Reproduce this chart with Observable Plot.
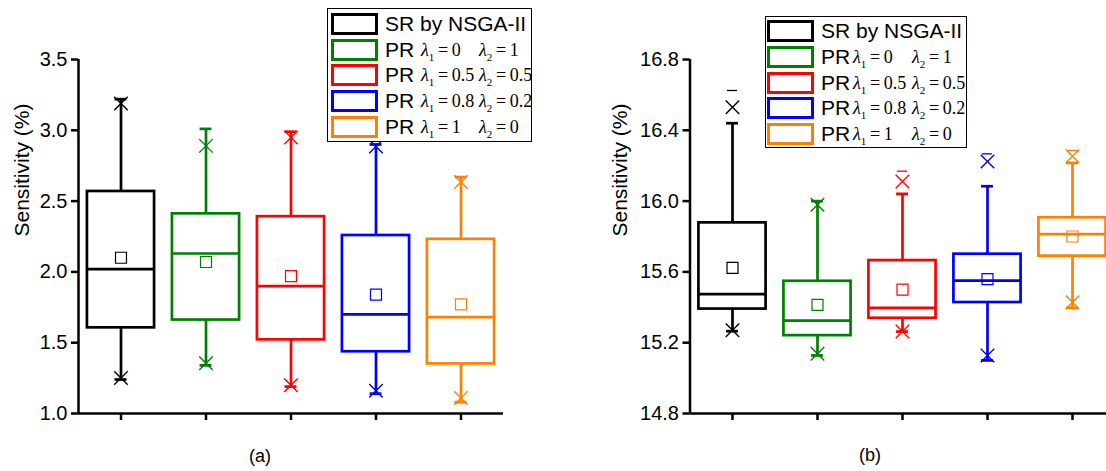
<!DOCTYPE html>
<html>
<head>
<meta charset="utf-8">
<script src="https://cdn.jsdelivr.net/npm/d3@7"></script>
<script src="https://cdn.jsdelivr.net/npm/@observablehq/plot@0.6"></script>
<style>
  html, body { margin: 0; padding: 0; background: #fff; overflow: hidden; }
  #chart { position: relative; width: 1106px; height: 471px; overflow: hidden; background: #fff;
           font-family: "Liberation Sans", Arial, sans-serif; color: #000; }
  .panel { position: absolute; top: 0; }
  .legend { position: absolute; box-sizing: border-box; border: 1.5px solid #000; background: #fff; }
  .legend .row { position: absolute; left: 0; right: 0; height: 26px; }
  .legend .swatch { position: absolute; top: 2px; height: 22px; width: 47px; box-sizing: border-box; border: 3px solid; }
  .legend .name { position: absolute; top: 0; line-height: 26px; font-size: 21px; white-space: nowrap; }
  .legend .math { position: absolute; top: 0; line-height: 26px; font-size: 18px; white-space: nowrap;
                  font-family: "Liberation Serif", "Times New Roman", serif; }
  .legend .math sub { font-size: 11px; vertical-align: 0; position: relative; top: 5px; }
  .caption { position: absolute; font-size: 18px; transform: translate(-50%, -50%); white-space: nowrap; }
</style>
</head>
<body>
<div id="chart"></div>
<script>
// Categories along x and the colour of each series
const categories = [1, 2, 3, 4, 5];
const seriesColors = ["#000000", "#008000", "#ff0000", "#0000ff", "#ff8000"];
const seriesNames = ["SR by NSGA-II", "PR", "PR", "PR", "PR"];
const lambda1 = [null, "0", "0.5", "0.8", "1"];
const lambda2 = [null, "1", "0.5", "0.2", "0"];

// Panel (a): box statistics of sensitivity (%)
const aQ1 = [1.605, 1.66, 1.52, 1.436, 1.35];
const aMedian = [2.02, 2.13, 1.90, 1.70, 1.68];
const aQ3 = [2.568, 2.41, 2.39, 2.257, 2.23];
const aMean = [2.10, 2.07, 1.97, 1.84, 1.77];
const aWhiskerLow = [1.24, 1.34, 1.19, 1.14, 1.08];
const aWhiskerHigh = [3.22, 3.01, 2.99, 2.90, 2.67];
const aP1 = [1.25, 1.355, 1.20, 1.16, 1.11];
const aP99 = [3.19, 2.89, 2.95, 2.885, 2.635];
const aMin = [1.24, 1.34, 1.19, 1.14, 1.08];
const aMax = [3.22, 3.01, 2.99, 2.90, 2.67];
const aTicks = [1.0, 1.5, 2.0, 2.5, 3.0, 3.5];

// Panel (b): box statistics of sensitivity (%)
const bQ1 = [15.39, 15.24, 15.338, 15.427, 15.689];
const bMedian = [15.474, 15.325, 15.397, 15.551, 15.813];
const bQ3 = [15.877, 15.547, 15.664, 15.70, 15.906];
const bMean = [15.623, 15.414, 15.50, 15.559, 15.80];
const bWhiskerLow = [15.265, 15.128, 15.263, 15.10, 15.397];
const bWhiskerHigh = [16.44, 16.0, 16.041, 16.084, 16.216];
const bP1 = [15.27, 15.137, 15.263, 15.128, 15.429];
const bP99 = [16.53, 15.98, 16.111, 16.224, 16.254];
const bMin = [15.265, 15.128, 15.263, 15.10, 15.397];
const bMax = [16.625, 16.0, 16.169, 16.267, 16.286];
const bTicks = [14.8, 15.2, 15.6, 16.0, 16.4, 16.8];

function buildRows(q1, median, q3, mean, wLo, wHi, p1, p99, min, max) {
  return categories.map((x, i) => ({
    x, color: seriesColors[i],
    q1: q1[i], median: median[i], q3: q3[i], mean: mean[i],
    wLo: wLo[i], wHi: wHi[i], p1: p1[i], p99: p99[i], min: min[i], max: max[i]
  }));
}

const HALF_BOX = 0.395;
const HALF_CAP = 0.07;
const HALF_DASH = 0.06;
const LINE = 2.7;

function boxPanel({rows, ticks, width, marginLeft, xRange, labelDx}) {
  const yDomain = [ticks[0], ticks[ticks.length - 1]];
  return Plot.plot({
    width,
    height: 440,
    marginTop: 59,
    marginBottom: 27,
    marginLeft,
    marginRight: 0,
    x: {type: "linear", domain: [0.5, 5.5], range: xRange},
    y: {domain: yDomain, range: [413, 59]},
    color: {type: "identity"},
    style: {fontFamily: "'Liberation Sans', Arial, sans-serif", fontSize: "20px", color: "#000", overflow: "visible", background: "transparent"},
    marks: [
      // axes
      Plot.axisY({ticks, tickFormat: d => d.toFixed(1), tickSize: 7, tickPadding: 4, strokeWidth: 2.5, fontSize: 20, label: null}),
      Plot.axisX({ticks: categories, tickFormat: () => "", tickSize: 7, strokeWidth: 2.5, label: null}),
      Plot.ruleX([0.5], {y1: yDomain[0], y2: yDomain[1], strokeWidth: 2.5}),
      Plot.ruleY([yDomain[0]], {x1: 0.5, x2: 5.5, strokeWidth: 2.5}),
      Plot.text({length: 1}, {text: ["Sensitivity (%)"], frameAnchor: "left", rotate: -90, dx: labelDx, fontSize: 21}),
      // whiskers
      Plot.ruleX(rows, {x: "x", y1: "q3", y2: "wHi", stroke: "color", strokeWidth: LINE}),
      Plot.ruleX(rows, {x: "x", y1: "wLo", y2: "q1", stroke: "color", strokeWidth: LINE}),
      // whisker caps
      Plot.ruleY(rows, {y: "wHi", x1: d => d.x - HALF_CAP, x2: d => d.x + HALF_CAP, stroke: "color", strokeWidth: LINE}),
      Plot.ruleY(rows, {y: "wLo", x1: d => d.x - HALF_CAP, x2: d => d.x + HALF_CAP, stroke: "color", strokeWidth: LINE}),
      // min / max dashes
      Plot.ruleY(rows, {y: "max", x1: d => d.x - HALF_DASH, x2: d => d.x + HALF_DASH, stroke: "color", strokeWidth: 1.3}),
      Plot.ruleY(rows, {y: "min", x1: d => d.x - HALF_DASH, x2: d => d.x + HALF_DASH, stroke: "color", strokeWidth: 1.3}),
      // interquartile box and median
      Plot.rect(rows, {x1: d => d.x - HALF_BOX, x2: d => d.x + HALF_BOX, y1: "q1", y2: "q3", fill: "none", stroke: "color", strokeWidth: LINE}),
      Plot.ruleY(rows, {y: "median", x1: d => d.x - HALF_BOX, x2: d => d.x + HALF_BOX, stroke: "color", strokeWidth: LINE}),
      // 1% / 99% markers
      Plot.dot(rows, {x: "x", y: "p99", symbol: "times", r: 6.2, stroke: "color", strokeWidth: 1.4}),
      Plot.dot(rows, {x: "x", y: "p1", symbol: "times", r: 6.2, stroke: "color", strokeWidth: 1.4}),
      // mean
      Plot.dot(rows, {x: "x", y: "mean", symbol: "square", r: 6.2, fill: "none", stroke: "color", strokeWidth: 1.2})
    ]
  });
}

function buildLegend({left, top, width, height, rowTop, pitch, swatchLeft, nameLeft, l1Left, l2Left}) {
  const box = document.createElement("div");
  box.className = "legend";
  Object.assign(box.style, {left: left + "px", top: top + "px", width: width + "px", height: height + "px"});
  seriesNames.forEach((name, i) => {
    const row = document.createElement("div");
    row.className = "row";
    row.style.top = (rowTop + pitch * i - 13) + "px";
    const sw = document.createElement("div");
    sw.className = "swatch";
    sw.style.left = swatchLeft + "px";
    sw.style.borderColor = seriesColors[i];
    row.appendChild(sw);
    const nm = document.createElement("span");
    nm.className = "name";
    nm.style.left = nameLeft + "px";
    nm.textContent = name;
    row.appendChild(nm);
    if (lambda1[i] !== null) {
      const m1 = document.createElement("span");
      m1.className = "math";
      m1.style.left = l1Left + "px";
      m1.innerHTML = `<i>λ</i><sub>1</sub>\u2009=\u2009${lambda1[i]}`;
      row.appendChild(m1);
      const m2 = document.createElement("span");
      m2.className = "math";
      m2.style.left = l2Left + "px";
      m2.innerHTML = `<i>λ</i><sub>2</sub>\u2009=\u2009${lambda2[i]}`;
      row.appendChild(m2);
    }
    box.appendChild(row);
  });
  return box;
}

function caption(text, cx, cy) {
  const c = document.createElement("div");
  c.className = "caption";
  c.style.left = cx + "px";
  c.style.top = cy + "px";
  c.textContent = text;
  return c;
}

const chart = document.getElementById("chart");

// Panel (a)
const panelA = document.createElement("div");
panelA.className = "panel";
Object.assign(panelA.style, {left: "0px", width: "560px"});
panelA.appendChild(boxPanel({
  rows: buildRows(aQ1, aMedian, aQ3, aMean, aWhiskerLow, aWhiskerHigh, aP1, aP99, aMin, aMax),
  ticks: aTicks, width: 560, marginLeft: 78, xRange: [78, 503], labelDx: -56
}));
chart.appendChild(panelA);

// Panel (b)
const panelB = document.createElement("div");
panelB.className = "panel";
Object.assign(panelB.style, {left: "600px", width: "506px"});
panelB.appendChild(boxPanel({
  rows: buildRows(bQ1, bMedian, bQ3, bMean, bWhiskerLow, bWhiskerHigh, bP1, bP99, bMin, bMax),
  ticks: bTicks, width: 506, marginLeft: 89.5, xRange: [89.5, 514.5], labelDx: -69.5
}));
chart.appendChild(panelB);

chart.appendChild(buildLegend({left: 327, top: 8, width: 205, height: 134, rowTop: 14.7, pitch: 25.8,
  swatchLeft: 3, nameLeft: 57, l1Left: 93, l2Left: 151}));
chart.appendChild(buildLegend({left: 765, top: 16, width: 202, height: 132, rowTop: 14, pitch: 25.75,
  swatchLeft: 1, nameLeft: 55, l1Left: 87, l2Left: 146}));

chart.appendChild(caption("(a)", 260, 456));
chart.appendChild(caption("(b)", 870, 455));
</script>
</body>
</html>
